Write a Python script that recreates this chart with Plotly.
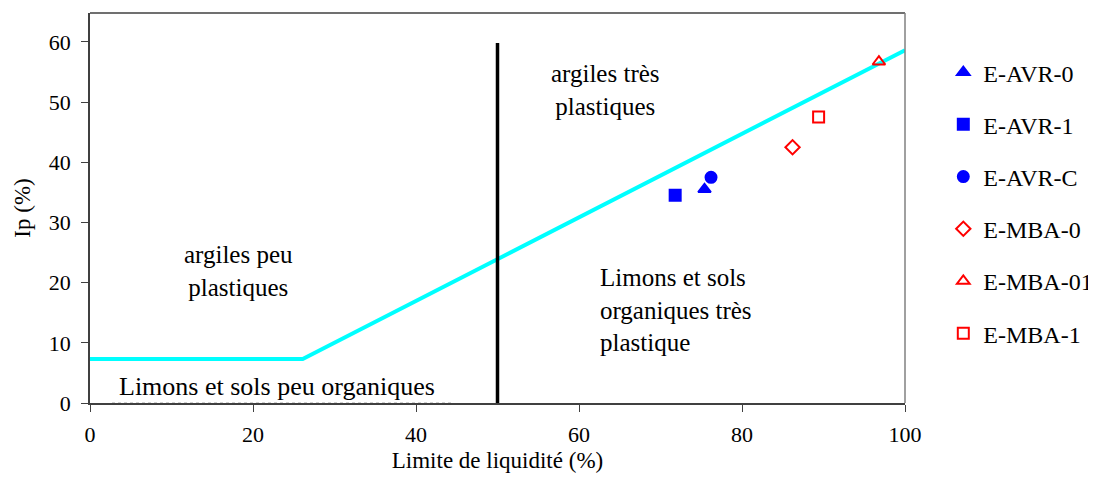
import plotly.graph_objects as go

# Limite de liquidité (%) et Ip (%) des échantillons
names = ["E-AVR-0", "E-AVR-1", "E-AVR-C", "E-MBA-0", "E-MBA-01", "E-MBA-1"]
wl = [75.4, 71.8, 76.2, 86.2, 96.8, 89.4]
ip = [35.5, 34.5, 37.5, 42.5, 56.7, 47.5]
symbols = ["triangle-up", "square", "circle", "diamond-open", "triangle-up-open", "square-open"]
colors = ["#0000ff", "#0000ff", "#0000ff", "#ff0000", "#ff0000", "#ff0000"]

# ligne A (cyan) et limite wL = 50
a_line_x = [0, 26.1, 100]
a_line_y = [7.3, 7.3, 58.6]
wl50_x = [50, 50]
wl50_y = [0, 59.8]

font_family = "'Liberation Serif', 'Times New Roman', serif"

fig = go.Figure()

fig.add_trace(go.Scatter(x=a_line_x, y=a_line_y, mode="lines",
                         line=dict(color="#00ffff", width=4), showlegend=False, hoverinfo="skip"))
fig.add_trace(go.Scatter(x=wl50_x, y=wl50_y, mode="lines",
                         line=dict(color="black", width=3.5), showlegend=False, hoverinfo="skip"))

for i in range(len(names)):
    fig.add_trace(go.Scatter(x=[wl[i]], y=[ip[i]], mode="markers", name=names[i],
                             legendgroup=names[i],
                             marker=dict(symbol=symbols[i], color=colors[i], size=11,
                                         line=dict(color=colors[i], width=2))))

annots = [
    dict(x=63.3, y=52.0, text="argiles très<br>plastiques", xanchor="center", align="center"),
    dict(x=18.2, y=21.9, text="argiles peu<br>plastiques", xanchor="center", align="center"),
    dict(x=62.3, y=15.5, text="Limons et sols<br>organiques très<br>plastique", xanchor="left", align="left"),
]
for a in annots:
    fig.add_annotation(x=a["x"], y=a["y"], text=a["text"], xanchor=a["xanchor"], yanchor="middle",
                       align=a["align"], showarrow=False, font=dict(size=25, color="black", family=font_family))
fig.add_annotation(x=22.9, y=2.8, text="Limons et sols peu organiques", showarrow=False,
                   xanchor="center", yanchor="middle", font=dict(size=26, color="black", family=font_family))

# zone blanche sous le texte avec ligne pointillée grise
fig.add_shape(type="line", x0=2.7, x1=44.6, y0=0, y1=0, layer="above",
              line=dict(color="white", width=3))
fig.add_shape(type="line", x0=2.7, x1=44.6, y0=0, y1=0, layer="above",
              line=dict(color="#a0a0a0", width=1, dash="dot"))

# cadre haut et droit
fig.add_shape(type="line", xref="paper", yref="paper", x0=0, x1=1, y0=1, y1=1,
              line=dict(color="#404040", width=1.5))
fig.add_shape(type="line", xref="paper", yref="paper", x0=1, x1=1, y0=0, y1=1,
              line=dict(color="#808080", width=1.5))

fig.update_xaxes(range=[0, 100], tickvals=[0, 20, 40, 60, 80, 100], showgrid=False, zeroline=False,
                 showline=True, linecolor="#404040", linewidth=1.5, ticks="outside", ticklen=7,
                 tickcolor="#404040", tickfont=dict(size=22, family=font_family, color="black"),
                 ticklabelstandoff=4, automargin=False,
                 title=dict(text="Limite de liquidité (%)", font=dict(size=23, family=font_family, color="black"),
                            standoff=6))
fig.update_yaxes(range=[0, 64.8], tickvals=[0, 10, 20, 30, 40, 50, 60], showgrid=False, zeroline=False,
                 showline=True, linecolor="#404040", linewidth=1.5, ticks="outside", ticklen=7,
                 tickcolor="#404040", tickfont=dict(size=22, family=font_family, color="black"),
                 ticklabelstandoff=6, automargin=False,
                 title=dict(text="Ip (%)", font=dict(size=23, family=font_family, color="black"),
                            standoff=12))

# la page a une marge de 8 px : figure un peu plus petite
fig.update_layout(
    width=1088, height=469,
    margin=dict(l=82, r=191, t=5, b=74, autoexpand=False),
    plot_bgcolor="white", paper_bgcolor="white",
    font=dict(family=font_family, color="black"),
    legend=dict(x=1.047, y=0.905, xanchor="left", yanchor="top",
                font=dict(size=24, family=font_family, color="black"),
                tracegroupgap=18, itemwidth=30, bgcolor="rgba(0,0,0,0)"),
)

fig.write_html("out.html")
